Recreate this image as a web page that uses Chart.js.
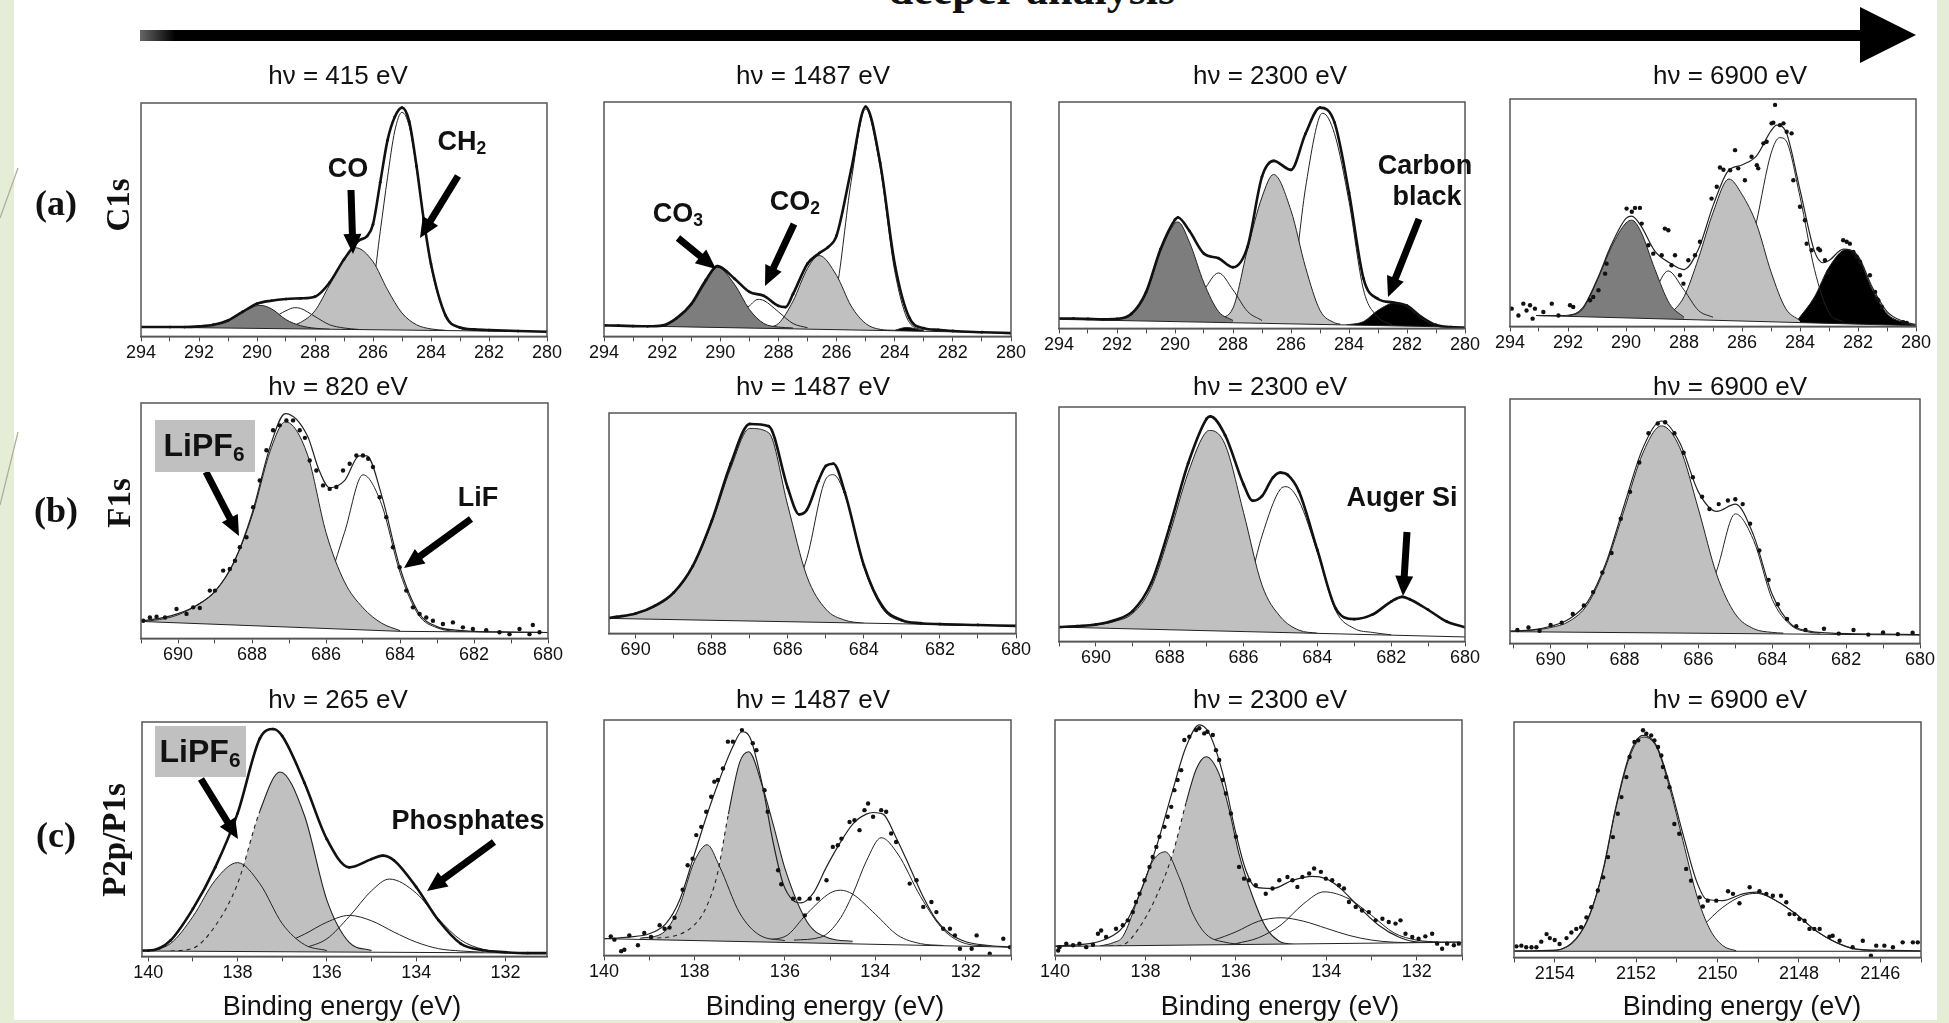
<!DOCTYPE html>
<html>
<head>
<meta charset="utf-8">
<script src="https://cdn.jsdelivr.net/npm/chart.js@4.4.1/dist/chart.umd.min.js"></script>
<style>
  body { margin: 0; width: 1949px; height: 1023px; background: #fff; position: relative; overflow: hidden;
         font-family: "Liberation Sans", Arial, sans-serif; color: #111; }
  .strip { position: absolute; background: #e6edd6; }
  canvas { position: absolute; }
  .t { position: absolute; transform: translate(-50%, -50%); white-space: nowrap; line-height: 1; }
  .title { font-size: 26px; }
  .xl { font-size: 27px; }
  .ann { font-size: 27px; font-weight: bold; }
  .ann sub { font-size: 65%; vertical-align: -0.25em; }
  .row { font-family: "Liberation Serif", "Times New Roman", serif; font-weight: bold; font-size: 36px; }
  .rot { font-family: "Liberation Serif", "Times New Roman", serif; font-weight: bold; font-size: 33px;
         transform: translate(-50%, -50%) rotate(-90deg); }
  .box { position: absolute; background: #c0c0c0; }
  svg { position: absolute; left: 0; top: 0; }
</style>
</head>
<body>
<div class="strip" style="left:0;top:0;width:14px;height:1023px"></div>
<div class="strip" style="left:1937px;top:0;width:12px;height:1023px"></div>
<div class="strip" style="left:0;top:1020px;width:1949px;height:3px"></div>

<div class="t" style="left:1032px;top:-10px;font-family:'Liberation Serif',serif;font-weight:bold;font-size:44px">deeper analysis</div>

<div id="charts"></div>
<svg id="over" width="1949" height="1023">
  <defs>
    <linearGradient id="fade" x1="140" y1="0" x2="175" y2="0" gradientUnits="userSpaceOnUse">
      <stop offset="0" stop-color="#666"/><stop offset="1" stop-color="#000"/>
    </linearGradient>
  </defs>
</svg>
<div id="labels"></div>

<script>
// ---------- values (y = % of the frame height) ----------
// (a) C1s, hv = 415 eV
const a1Bg  = [[294,4],[280,2]];
const a1Co3 = [[292.5,3.8],[292,4.1],[291.5,4.9],[291,6.7],[290.5,10.3],[289.9,13.3],[289.5,11.8],[289,7.2],[288.5,4.6],[288,3.5],[287.5,3.1]];
const a1Co2 = [[290.5,3.8],[290,4.8],[289.5,7.5],[289,11],[288.7,12.3],[288.5,12],[288,8.5],[287.5,5],[287,3.6],[286.5,3]];
const a1Co  = [[289.5,3.4],[289,4],[288.5,6],[288,11],[287.5,22],[287,33],[286.6,38],[286,32],[285.5,20],[285,10],[284.5,5],[284,3.2],[283.5,2.6]];
const a1Ch2 = [[287.5,3.1],[287,4],[286.5,7],[286,22],[285.75,45],[285.5,68],[285.25,88],[285,96],[284.75,90],[284.5,72],[284.25,50],[284,30],[283.5,9],[283,3.5],[282.5,2.5]];
const a1Env = [[294,4],[293,4],[292.5,4],[292,4.3],[291.5,5],[291,6.8],[290.5,10.5],[290,14],[289.5,15.3],[289,16],[288.5,16.3],[288,17],[287.5,23],[287,33],[286.5,41],[286.2,43],[286,48],[285.75,66],[285.5,84],[285.25,94],[285,98],[284.75,92],[284.5,73],[284.25,50],[284,31],[283.5,9],[283,3.8],[282.5,3],[282,2.7],[281,2.3],[280,2]];

// (a) C1s, hv = 1487 eV
const a2Bg  = [[294,4.7],[280,1.5]];
const a2Co3 = [[292.5,4.3],[292,4.6],[291.5,7.5],[291,13],[290.5,23],[290.1,29.5],[289.5,22],[289,11.5],[288.5,5.5],[288,4],[287.5,3.6]];
const a2Co2 = [[290.5,3.8],[290,4.5],[289.5,7.5],[289,13],[288.7,15.8],[288.5,15.3],[288,10.5],[287.5,5.5],[287,3.7]];
const a2Co  = [[288.5,3.6],[288,5.5],[287.5,15],[287,29],[286.6,34.5],[286,26],[285.5,13],[285,5.5],[284.5,3],[284,2.6]];
const a2Ch2 = [[286.5,5],[286,20],[285.5,66],[285,97],[284.5,72],[284,28],[283.5,6],[283,2.7]];
const a2Cb  = [[284,2.6],[283.6,3.8],[283,2.4]];
const a2Env = [[294,4.7],[293.5,4.6],[293,4.4],[292.5,4.3],[292,4.6],[291.5,7.8],[291,13.8],[290.5,24],[290.1,30],[289.5,24.5],[289,19],[288.5,17.3],[288,13],[287.75,12.5],[287.5,18],[287,31],[286.6,35.5],[286.3,38],[286,43],[285.5,71],[285,98],[284.5,74],[284,31],[283.5,8],[283,3.5],[282.5,2.8],[282,2.3],[281,1.8],[280,1.4]];

// (a) C1s, hv = 2300 eV
const a3Bg  = [[294,4],[280,0.5]];
const a3Co3 = [[292,4],[291.5,6],[291,15],[290.5,34],[290,46.5],[289.9,47],[289.5,38],[289,20],[288.5,7.5],[288,3.5]];
const a3Co2 = [[290,3.8],[289.5,8],[289,17],[288.5,24.5],[288,17],[287.5,7.5],[287,3.5]];
const a3Co  = [[288.5,4],[288,9],[287.5,35],[287,58],[286.6,68],[286,52],[285.5,27],[285,8],[284.5,2.5],[284.3,1.9]];
const a3Ch2 = [[286.5,4],[286,14],[285.5,62],[285,94],[284.9,95],[284.5,86],[284,56],[283.5,17],[283,5],[282.5,1.5]];
const a3Cb  = [[284.1,1.5],[283.5,3],[283,8],[282.4,11.3],[282,9.5],[281.5,4.4],[281,1.2],[280.7,0.8]];
const a3Env = [[294,4.4],[293.5,4.4],[293,4.2],[292.5,4],[292,4.2],[291.5,6.5],[291,16],[290.5,35],[290,48],[289.9,49],[289.5,43],[289,33],[288.5,31],[288,27],[287.5,36],[287,67],[286.6,74],[286,70],[285.5,86],[285,97.5],[284.5,91],[284,60],[283.5,22],[283,13],[282.5,11.5],[282,10],[281.5,5],[281,1.5],[280.5,0.6],[280,0.3]];

// (a) C1s, hv = 6900 eV
const a4Bg  = [[293.1,4.8],[280,0.3]];
const a4Co3 = [[292,4.5],[291.5,7.5],[291,20],[290.5,35],[290,45.5],[289.8,46.7],[289.5,42],[289,25],[288.5,10],[288,4]];
const a4Co2 = [[290,4.5],[289.5,7],[289,16],[288.55,24.4],[288,16],[287.5,7],[287,4]];
const a4Co  = [[288.5,5],[288,13],[287.5,30],[287,50],[286.45,64.8],[286,58],[285.5,45],[285,24],[284.5,8],[284,2.5]];
const a4Ch2 = [[286.5,5],[286,18],[285.5,46],[285,76],[284.7,83],[284.5,82],[284,57],[283.5,25],[283,6],[282.5,2]];
const a4Cb  = [[284.1,2.5],[283.5,13],[283,26],[282.4,33.8],[282,30.5],[281.5,16],[281,5.6],[280.5,2],[280,0.5]];
const a4Fit = [[293.1,4.8],[292.5,4.7],[292,4.9],[291.5,8],[291,20.5],[290.5,36],[290,47.5],[289.8,48.5],[289.5,44.5],[289,33],[288.5,28],[288,25],[287.5,34],[287,53],[286.5,68],[286,71],[285.5,75],[285,86],[284.8,88.5],[284.5,86],[284,60],[283.5,33],[283.2,28],[283,29],[282.5,34],[282,31],[281.5,17],[281,6.5],[280.5,2.5],[280,0.8]];
const a4Dots = [[293.94,7.8],[293.71,4.8],[293.54,10],[293.43,7],[293.31,9.3],[293.22,3.4],[293.14,7.8],[292.85,6.3],[292.56,10],[292.33,4.8],[291.93,9.3],[291.82,8.5],[291.24,11.5],[291.13,12.9],[290.95,15.9],[290.72,23.2],[290.67,27.6],[289.98,51.8],[289.8,50.4],[289.69,52.1],[289.52,52.1],[289.46,45.2],[289.23,35.7],[289.06,32],[288.77,31.3],[288.66,43],[288.54,42.3],[288.43,26.9],[288.31,31.3],[288.14,22.5],[288.02,18.8],[287.85,29.1],[287.62,31.3],[287.45,37.2],[287.05,56.2],[286.87,61.4],[286.76,69.9],[286.64,68.9],[286.41,68.7],[286.24,77.5],[286.13,69.5],[285.9,64.3],[285.67,74.6],[285.49,70.9],[285.44,69.5],[285.26,80.5],[285.15,81.2],[284.98,89.3],[284.92,89.6],[284.86,97.4],[284.69,88.5],[284.57,89.3],[284.46,85.6],[284.29,84.9],[284.23,64.3],[284,52.6],[283.83,46.7],[283.77,36.4],[283.6,33.5],[283.37,34.2],[283.31,33.5],[283.14,29.1],[283.02,23.9],[282.51,37.9],[282.39,37.2],[282.28,36.4],[282.16,32.7],[282.05,30.5],[281.93,28.3],[281.59,22.5],[281.41,15.1],[281.36,12.2],[281.3,11.5],[281.18,8.5],[280.44,1.9],[280.32,1.5]];

// (b) F1s, hv = 820 eV
const b1Bg  = [[691,7.2],[684,3],[680,2.5]];
const b1Lipf = [[691,7.2],[690.5,8],[690,10],[689.5,14],[689,20],[688.5,32],[688,52],[687.5,80],[687.1,92],[686.5,78],[686,45],[685.5,24],[685,13],[684.5,6.5],[684,3.3]];
const b1Lif = [[688,5.5],[687.5,6],[687,8.5],[686.5,12],[686,22],[685.5,45],[685,69.5],[684.5,57],[684,28],[683.5,10],[683,4.5],[682.5,3],[682,2.6]];
const b1Fit = [[691,7.5],[690.5,8.5],[690,10.5],[689.5,14],[689,20],[688.5,32],[688,53],[687.5,82],[687.1,95.5],[686.5,86],[686.2,72],[685.9,64],[685.5,67],[685.1,77.5],[684.9,77.5],[684.5,61],[684,30],[683.5,11],[683,5],[682.5,3.5],[682,3],[681,2.7],[680,2.5]];
const b1Dots = [[690.94,7.5],[690.76,8.9],[690.58,9.2],[690.35,8.9],[690.04,12.5],[689.77,10.4],[689.59,13.2],[689.41,12.9],[689.14,20.3],[689,20.3],[688.78,28.8],[688.6,29.5],[688.46,33],[688.33,38.7],[688.15,43],[687.97,55.7],[687.79,67.1],[687.61,79.9],[687.43,88.4],[687.25,90.5],[687.07,92.6],[686.89,92.6],[686.71,88.4],[686.57,85.2],[686.44,75.6],[686.26,71.3],[686.08,65],[685.9,63.5],[685.72,64.3],[685.54,71.3],[685.36,74.2],[685.18,77.7],[685,77.7],[684.86,76.3],[684.73,72.8],[684.55,60],[684.37,51.5],[684.19,38.7],[684.01,30.2],[683.83,20.3],[683.65,13.2],[683.47,10.4],[683.29,8.9],[683.11,7.5],[682.84,6.1],[682.57,6.8],[682.3,4.7],[682.03,4],[681.67,3.5],[681.31,2.6],[681.04,1.8],[680.77,4],[680.5,1.8],[680.41,5.7],[680.23,2.6]];

// (b) F1s, hv = 1487 eV
const b2Bg  = [[690.7,6.8],[680,3.4]];
const b2Lipf = [[690.7,7],[690.5,7.5],[690,9],[689.5,12],[689,18],[688.5,30],[688,50],[687.5,75],[687,93],[686.5,91],[686,58],[685.5,26],[685,11],[684.5,6],[684,4.6]];
const b2Lif = [[687,5.8],[686.5,7],[686,12],[685.5,34],[685,70],[684.8,72],[684.5,63],[684,30],[683.5,11],[683,5.5],[682.5,4.2]];
const b2Env = [[690.7,7],[690.5,7.5],[690,9],[689.5,12.5],[689,18.5],[688.5,30.5],[688,51],[687.5,77],[687,95],[686.5,94],[686,66],[685.7,54],[685.5,56],[685.2,69],[685,76],[684.8,77],[684.5,64],[684,31],[683.5,12],[683,6],[682.5,4.6],[682,4.2],[681,3.8],[680,3.4]];

// (b) F1s, hv = 2300 eV
const b3Bg  = [[691,6.1],[680,1.9]];
const b3Lipf = [[691,6.1],[690.5,6.5],[690,7],[689.5,8.5],[689,12],[688.5,23],[688,46],[687.5,72],[687,89.5],[686.9,90],[686.5,84],[686,55],[685.5,24],[685,10.5],[684.5,4.8],[684,3.5]];
const b3Lif = [[687.5,5.5],[687,6],[686.5,7.5],[686,16],[685.5,45],[685,65],[684.85,66],[684.5,60],[684,38],[683.5,13],[683,5.5],[682.5,3.8],[682,2.8]];
const b3Env = [[691,6.1],[690.5,6.5],[690,7.2],[689.5,9],[689,13],[688.5,25],[688,49],[687.5,76],[687,95],[686.9,96],[686.5,88],[686,67],[685.75,60],[685.5,62],[685.2,70],[685,72],[684.8,71],[684.5,64],[684,39],[683.5,14],[683,9.5],[682.5,11.5],[682,17],[681.7,19],[681.5,18],[681,13.5],[680.5,8.5],[680,6]];

// (b) F1s, hv = 6900 eV
const b4Bg  = [[691.1,4.8],[680,3.4]];
const b4Lipf = [[691.1,5],[690.5,5.4],[690,6.5],[689.5,9],[689,16],[688.5,32],[688,55],[687.5,78],[687,89],[686.5,80],[686,55],[685.5,28],[685,12],[684.5,6],[684,4.5],[683.7,4.2]];
const b4Lif = [[686.8,4.6],[686.5,5.5],[686,11],[685.5,30],[685,53],[684.5,42],[684,18],[683.5,7.5],[683,4.6],[682.7,4.2]];
const b4Fit = [[691.1,5],[690.5,5.5],[690,7],[689.5,10],[689,17],[688.5,33],[688,57],[687.5,80],[687,91],[686.5,82],[686,62],[685.5,54],[685,57],[684.5,44],[684,20],[683.5,8],[683,5],[682.5,4.3],[682,4],[681,3.8],[680,3.6]];
const b4Dots = [[690.9,5.5],[690.6,6.5],[690.3,5.2],[690,7.5],[689.7,8.5],[689.4,12],[689.1,15.5],[688.85,21],[688.6,29],[688.35,37],[688.1,51],[687.85,62],[687.6,74],[687.35,86],[687.1,90],[686.9,90.5],[686.65,86],[686.4,78],[686.15,68],[685.9,60],[685.7,55],[685.45,57],[685.2,58.5],[685,59],[684.8,57],[684.6,49],[684.35,38],[684.1,26],[683.85,16],[683.6,10],[683.35,7],[683.1,5.5],[682.6,6],[682.2,4],[681.8,5.5],[681.4,3.6],[681,4.5],[680.6,3.8],[680.2,4.4]];

// (c) P2p, hv = 265 eV
const c1Bg  = [[140.14,2.3],[131.07,1.4]];
const c1P1  = [[140,2.3],[139.5,5.5],[139,17],[138.5,32.5],[138,40],[137.5,31],[137,14],[136.5,5],[136,2.5]];
const c1P2  = [[139.5,2.3],[139,3.5],[138.5,13],[138,31],[137.5,62],[137.05,78.7],[136.5,60],[136,24],[135.5,6],[135,2.5]];
const c1Ph1 = [[137.5,3.3],[137,5.4],[136.5,9.5],[136,14.6],[135.5,17.5],[135,15.2],[134.5,10.4],[134,6.1],[133.5,3.3],[133,2.3],[132.5,1.8]];
const c1Ph2 = [[136.5,3.5],[136,7.5],[135.5,17],[135,28],[134.6,33],[134,27],[133.5,16],[133,7],[132.5,3],[132,1.8]];
const c1Env = [[140.14,2.5],[140,2.5],[139.75,3.5],[139.5,6.8],[139,20.3],[138.5,38],[138,61],[137.5,93],[137.2,97],[137,94],[136.5,74],[136,50],[135.5,38],[135,41.5],[134.75,43],[134.5,41],[134,29.6],[133.5,15.4],[133,5.4],[132.5,2.6],[132,1.8],[131.5,1.4],[131.07,1.4]];

// (c) P2p, hv = 1487 eV
const c2Bg  = [[140,7.1],[131,3.5]];
const c2P1  = [[139.2,7.3],[138.7,9.5],[138.35,20],[138,40],[137.72,47],[137.45,38],[137,18],[136.55,8.5],[136,6.3]];
const c2P2  = [[139,7.3],[138.5,8],[138,13],[137.75,20],[137.5,34],[137.25,60],[137,82],[136.8,86.5],[136.5,72],[136.25,55],[136,37],[135.5,14],[135,7.2],[134.5,6]];
const c2Ph1 = [[136.5,6.6],[136,8],[135.5,18],[135,26.5],[134.77,27.7],[134.5,26],[134,17.5],[133.5,8.5],[133,5],[132.5,4.2]];
const c2Ph2 = [[135.8,6.5],[135.2,7.8],[134.8,15],[134.5,26],[134.2,40],[133.87,50],[133.5,43],[133,25],[132.5,11],[132,5],[131.5,4]];
const c2Fit = [[140,7.1],[139.45,7.8],[139,9.2],[138.63,13.5],[138.33,23.4],[138,43],[137.74,58.7],[137.45,74.5],[137.15,88.7],[136.95,95],[136.78,92.9],[136.49,71.6],[136.27,49],[136.04,30.5],[135.82,23.4],[135.64,22.3],[135.38,26.2],[135.08,37.6],[134.79,47.5],[134.49,56],[134.2,60],[134.05,60.7],[133.83,60],[133.54,50],[133.24,37.6],[132.94,24.8],[132.65,15],[132.35,9.2],[131.98,5.7],[131.54,4.3],[131,3.5]];
const c2Dots = [[139.85,8.1],[139.77,6.7],[139.62,1.8],[139.55,2.4],[139.44,8.5],[139.25,4.3],[139.11,9.5],[138.96,7.8],[138.77,12.8],[138.66,11.3],[138.55,11.8],[138.44,16],[138.26,27.9],[138.15,38.3],[138.04,41.1],[137.96,51.1],[137.85,54.6],[137.74,61],[137.63,67.4],[137.56,73.8],[137.48,74.5],[137.37,79.4],[137.26,90.8],[137.15,90.8],[136.95,95.7],[136.71,90.1],[136.63,87.2],[136.45,70.2],[136.38,61],[136.15,36.2],[136.08,30.2],[135.82,24.1],[135.68,24.1],[135.56,17],[135.45,24.1],[135.27,24.1],[135.08,31.9],[134.94,46.1],[134.83,46.8],[134.75,49.6],[134.57,56.7],[134.46,57.4],[134.35,53.2],[134.24,61.7],[134.16,64.5],[134.05,58.9],[133.87,61.7],[133.76,61],[133.65,51.8],[133.54,48.2],[133.24,30.5],[133.09,31.9],[132.94,20.6],[132.76,22.7],[132.65,18.4],[132.5,11.3],[132.35,11.3],[132.24,8.5],[132.13,2.8],[131.87,2.8],[131.76,8.5],[131.47,0.7],[131.17,7.1],[131.02,3.5]];

// (c) P2p, hv = 2300 eV
const c3Bg  = [[140,3.8],[131,5.6]];
const c3P1  = [[139,4],[138.7,5.5],[138.5,8],[138.13,26],[137.84,40],[137.56,44],[137.25,33],[136.96,18],[136.66,9],[136.22,5.5],[135.9,4.8]];
const c3P2  = [[138.8,4],[138.5,4.5],[138.13,12],[137.76,25],[137.4,43],[137.1,65],[136.88,79],[136.66,84.4],[136.37,77],[136.15,62],[135.93,43],[135.63,25],[135.34,12],[135.04,6],[134.7,4.6]];
const c3Ph1 = [[137,4.5],[136.5,6.5],[136,10],[135.5,14.5],[135,16],[134.5,14.5],[134,11.5],[133.5,8.5],[133,6.5],[132.5,5.6],[132,5.4]];
const c3Ph2 = [[136,5],[135.5,7.5],[135,13],[134.5,22],[134.05,27],[133.5,24],[133,17],[132.5,9.5],[132,6.5],[131.5,5.6]];
const c3Fit = [[140,4],[139.24,5],[138.87,7],[138.5,12],[138.13,26],[137.76,46],[137.4,70],[137.1,88.7],[136.81,97.9],[136.59,94.3],[136.29,77.3],[136,51.8],[135.78,36.2],[135.56,29],[135.19,28.4],[134.75,31.9],[134.31,33.6],[134.01,32.6],[133.72,29],[133.28,20.6],[132.84,12.8],[132.4,7.8],[131.96,5.7],[131.04,5.7]];
const c3Dots = [[139.93,2.1],[139.9,3.5],[139.75,5],[139.6,4.3],[139.46,5],[139.31,3.5],[139.16,4.5],[139.05,9.2],[138.98,10.6],[138.87,7.8],[138.65,11.3],[138.5,12.8],[138.39,14.9],[138.28,18.4],[138.21,22.7],[138.13,26.2],[138.02,31.9],[137.91,37.6],[137.84,41.8],[137.76,46.1],[137.69,50.4],[137.58,54.6],[137.51,58.9],[137.43,63.1],[137.36,70.2],[137.29,74.5],[137.21,78.7],[137.14,91.5],[137.03,92.9],[136.88,95.7],[136.81,96.5],[136.7,94.3],[136.63,95],[136.51,93.6],[136.44,87.2],[136.37,83],[136.29,74.5],[136.22,68.8],[136.11,60.3],[136,50.4],[135.93,37.6],[135.82,32.6],[135.71,31.9],[135.56,29.8],[135.34,26.2],[135.19,28.4],[135.04,31.9],[134.86,33.3],[134.75,31.9],[134.64,29.1],[134.53,33.3],[134.38,34.8],[134.27,36.9],[134.12,35.5],[134.01,32.6],[133.87,31.9],[133.72,29.8],[133.61,28.4],[133.5,22.7],[133.35,20.6],[133.21,19.1],[133.06,18.4],[132.91,14.9],[132.76,15.6],[132.62,14.2],[132.47,13.5],[132.36,14.9],[132.25,9.2],[132.1,7.8],[131.96,7.1],[131.81,8.1],[131.66,9.2],[131.55,5],[131.44,2.8],[131.33,5],[131.18,4.3],[131.07,5]];

// (c) P1s, hv = 6900 eV
const c4Bg  = [[2155,2.6],[2145,2.6]];
const c4P   = [[2154.2,2.7],[2153.96,3],[2153.47,7.8],[2153.14,18.4],[2152.81,36.9],[2152.49,63.8],[2152.16,85.1],[2151.83,93.6],[2151.5,89.4],[2151.18,72.3],[2150.85,49.6],[2150.52,27],[2150.19,12],[2149.87,5],[2149.54,2.8]];
const c4Ph  = [[2151.6,3],[2151.18,4.3],[2150.69,8.5],[2150.36,13.5],[2149.87,21.3],[2149.38,26.2],[2149.05,27.2],[2148.56,24.1],[2148.07,18.4],[2147.58,11.3],[2147.09,6.4],[2146.59,3.5],[2146.1,2.8]];
const c4Fit = [[2155,2.8],[2153.96,3.1],[2153.47,8.1],[2153.14,18],[2152.81,37.4],[2152.49,64.5],[2152.16,86.2],[2151.83,94.3],[2151.5,90],[2151.18,73.8],[2150.85,52.5],[2150.52,32.6],[2150.28,24.8],[2149.87,24.1],[2149.38,27],[2149.05,27.7],[2148.56,24.1],[2148.07,18.4],[2147.58,11.3],[2147.09,6.4],[2146.59,3.5],[2146.1,3.1],[2145,2.8]];
const c4Dots = [[2154.94,4.7],[2154.82,5],[2154.7,4.3],[2154.57,4.3],[2154.45,4.3],[2154.33,6.7],[2154.2,9.9],[2154.12,8.2],[2154,7.4],[2153.88,5.7],[2153.71,8.2],[2153.59,10.6],[2153.47,12.1],[2153.35,12.8],[2153.22,17],[2153.1,21.3],[2152.94,28.4],[2152.81,34],[2152.69,42.6],[2152.57,51.1],[2152.45,61],[2152.36,68.1],[2152.24,76.6],[2152.16,85.1],[2152.04,91.5],[2151.95,92.2],[2151.83,96.5],[2151.75,95],[2151.63,94.3],[2151.55,92.2],[2151.46,89.4],[2151.38,85.8],[2151.34,80.9],[2151.26,76.6],[2151.18,72.3],[2151.06,56.7],[2150.94,52.5],[2150.77,37.6],[2150.65,32.6],[2150.44,25.5],[2150.36,21.6],[2150.24,24.1],[2150.03,24.1],[2149.74,28.1],[2149.62,27],[2149.46,23],[2149.21,29.8],[2148.97,28.1],[2148.8,27],[2148.64,26.2],[2148.44,26.2],[2148.31,23.4],[2148.23,18.4],[2148.11,18.4],[2147.99,16.3],[2147.86,15.6],[2147.74,12.1],[2147.62,12.1],[2147.49,12.1],[2147.25,8.8],[2147.17,9.2],[2147,7.1],[2146.68,4.3],[2146.43,7.1],[2146.23,0.7],[2146.1,5],[2145.9,5],[2145.69,4.3],[2145.45,6.4],[2145.2,6.4],[2145.08,6.4]];

const titles = ['hν = 415 eV','hν = 1487 eV','hν = 2300 eV','hν = 6900 eV',
                'hν = 820 eV','hν = 1487 eV','hν = 2300 eV','hν = 6900 eV',
                'hν = 265 eV','hν = 1487 eV','hν = 2300 eV','hν = 6900 eV'];

// ---------- drawing ----------
const DARK = '#7d7d7d', LIGHT = '#c0c0c0', BLACK = '#000';

const panels = [
  {box:[141,103,547,336], x:[280,294], bg:a1Bg, comps:[[a1Co3,DARK],[a1Co2,null],[a1Co,LIGHT],[a1Ch2,null]], env:a1Env},
  {box:[604,102,1011,336], x:[280,294], bg:a2Bg, comps:[[a2Co3,DARK],[a2Co2,null],[a2Co,LIGHT],[a2Ch2,null],[a2Cb,BLACK]], env:a2Env},
  {box:[1059,102,1465,328], x:[280,294], bg:a3Bg, comps:[[a3Co3,DARK],[a3Co2,null],[a3Co,LIGHT],[a3Ch2,null],[a3Cb,BLACK]], env:a3Env},
  {box:[1510,99,1916,326], x:[280,294], bg:a4Bg, comps:[[a4Co3,DARK],[a4Co2,null],[a4Co,LIGHT],[a4Ch2,null],[a4Cb,BLACK]], fit:a4Fit, dots:a4Dots},
  {box:[141,403,548,638], x:[680,691], bg:b1Bg, comps:[[b1Lipf,LIGHT],[b1Lif,null]], fit:b1Fit, dots:b1Dots},
  {box:[609,413,1016,633], x:[680,690.7], bg:b2Bg, comps:[[b2Lipf,LIGHT],[b2Lif,null]], env:b2Env},
  {box:[1059,407,1465,641], x:[680,691], bg:b3Bg, comps:[[b3Lipf,LIGHT],[b3Lif,null]], env:b3Env},
  {box:[1510,399,1920,643], x:[680,691.1], bg:b4Bg, comps:[[b4Lipf,LIGHT],[b4Lif,null]], fit:b4Fit, dots:b4Dots},
  {box:[142,722,547,956], x:[131.07,140.14], bg:c1Bg, comps:[[c1P1,LIGHT],[c1P2,LIGHT,137.8],[c1Ph1,null],[c1Ph2,null]], env:c1Env},
  {box:[604,720,1011,955], x:[131,140], bg:c2Bg, comps:[[c2P1,LIGHT],[c2P2,LIGHT,137.35],[c2Ph1,null],[c2Ph2,null]], fit:c2Fit, dots:c2Dots},
  {box:[1055,720,1462,955], x:[131,140], bg:c3Bg, comps:[[c3P1,LIGHT],[c3P2,LIGHT,137.35],[c3Ph1,null],[c3Ph2,null]], fit:c3Fit, dots:c3Dots},
  {box:[1514,722,1921,957], x:[2145,2155], bg:c4Bg, comps:[[c4P,LIGHT],[c4Ph,null]], fit:c4Fit, dots:c4Dots}
];

const frame = {
  id: 'frame',
  afterDraw(chart) {
    const {ctx, chartArea: a} = chart;
    ctx.save();
    ctx.strokeStyle = '#555';
    ctx.lineWidth = 1.5;
    ctx.strokeRect(a.left, a.top, a.right - a.left, a.bottom - a.top);
    ctx.restore();
  }
};

const pts = arr => arr.map(([x, y]) => ({x, y}));

const PAD_L = 30, PAD_R = 30, PAD_T = 4;
const TICK_LEN = 5, TICK_PAD = 1, TICK_SIZE = 18;
const AXIS_H = TICK_LEN + 2 * TICK_PAD + TICK_SIZE * 1.2;

panels.forEach(p => {
  const [L, T, R, B] = p.box;
  const cv = document.createElement('canvas');
  const w = R - L + PAD_L + PAD_R;
  const h = Math.round(PAD_T + (B - T) + AXIS_H);
  cv.width = w; cv.height = h;
  cv.style.left = (L - PAD_L) + 'px';
  cv.style.top = (T - PAD_T) + 'px';
  cv.style.width = w + 'px'; cv.style.height = h + 'px';
  document.getElementById('charts').appendChild(cv);

  const ds = [];
  p.comps.forEach(([arr, color, dashFrom]) => {
    if (dashFrom) {
      // fill alone, then the outline with its hidden (dashed) part
      ds.push({data: pts(arr), borderWidth: 0, borderColor: 'transparent', pointRadius: 0,
               cubicInterpolationMode: 'monotone', order: 11, fill: 'origin', backgroundColor: color});
      ds.push({data: pts(arr), borderColor: '#222', borderWidth: 1.1, pointRadius: 0,
               cubicInterpolationMode: 'monotone', order: 9, fill: false,
               segment: {borderDash: c => arr[c.p0DataIndex][0] > dashFrom ? [4, 4] : undefined}});
    } else {
      ds.push({data: pts(arr), borderColor: '#222', borderWidth: 1, pointRadius: 0,
               cubicInterpolationMode: 'monotone', order: 10,
               fill: color ? 'origin' : false, backgroundColor: color || 'transparent'});
    }
  });
  // background line; white below it
  ds.push({data: pts(p.bg), borderColor: '#222', borderWidth: 1, pointRadius: 0,
           fill: 'origin', backgroundColor: '#fff', order: 5});
  if (p.env) {
    ds.push({data: pts(p.env), borderColor: '#111', borderWidth: 2.6, pointRadius: 1.4,
             pointBackgroundColor: '#111', pointBorderWidth: 0, cubicInterpolationMode: 'monotone', order: 2});
  }
  if (p.fit) {
    ds.push({data: pts(p.fit), borderColor: '#222', borderWidth: 1.2, pointRadius: 0,
             cubicInterpolationMode: 'monotone', order: 3});
  }
  if (p.dots) {
    ds.push({data: pts(p.dots), showLine: false, pointRadius: 2.2, pointBackgroundColor: '#111',
             pointBorderWidth: 0, order: 1});
  }

  new Chart(cv, {
    type: 'line',
    data: {datasets: ds},
    options: {
      responsive: false, animation: false, events: [],
      layout: {padding: {left: PAD_L, right: PAD_R, top: PAD_T, bottom: 0}},
      plugins: {legend: {display: false}, tooltip: {enabled: false}},
      scales: {
        x: {
          type: 'linear', min: p.x[0], max: p.x[1], reverse: true,
          border: {display: true, color: '#444', width: 1.5},
          grid: {display: true, drawOnChartArea: false, drawTicks: true, tickLength: TICK_LEN, color: '#444'},
          ticks: {
            stepSize: 1, autoSkip: false, maxRotation: 0, minRotation: 0, padding: TICK_PAD,
            includeBounds: false, color: '#111',
            font: {family: '"Liberation Sans", Arial, sans-serif', size: TICK_SIZE},
            callback: v => (Math.abs(v % 2) < 1e-6 ? String(v) : '')
          }
        },
        y: {type: 'linear', min: 0, max: 100, display: false}
      }
    },
    plugins: [frame]
  });
});

// ---------- text ----------
const lab = document.getElementById('labels');
function txt(cls, x, y, html, extra) {
  const d = document.createElement('div');
  d.className = 't ' + cls;
  d.style.left = x + 'px'; d.style.top = y + 'px';
  if (extra) d.style.cssText += extra;
  d.innerHTML = html;
  lab.appendChild(d);
}
const titleX = [338, 813, 1270, 1730];
const titleY = [75, 386, 699];
titles.forEach((t, i) => txt('title', titleX[i % 4], titleY[Math.floor(i / 4)], t));
[342, 825, 1280, 1742].forEach(x => txt('xl', x, 1006, 'Binding energy (eV)'));

txt('row', 56, 203, '(a)');
txt('row', 56, 510, '(b)');
txt('row', 56, 835, '(c)');
txt('rot', 118, 205, 'C1s');
txt('rot', 119, 503, 'F1s');
txt('rot', 114, 840, 'P2p/P1s');

// label boxes
[[155,420,100,52],[155,726,91,51]].forEach(([x, y, w, h]) => {
  const d = document.createElement('div');
  d.className = 'box';
  d.style.cssText += `left:${x}px;top:${y}px;width:${w}px;height:${h}px`;
  lab.appendChild(d);
});
txt('ann', 204, 447, 'LiPF<sub>6</sub>', 'font-size:32px');
txt('ann', 200, 753, 'LiPF<sub>6</sub>', 'font-size:32px');
txt('ann', 348, 168, 'CO');
txt('ann', 462, 143, 'CH<sub>2</sub>');
txt('ann', 678, 215, 'CO<sub>3</sub>');
txt('ann', 795, 203, 'CO<sub>2</sub>');
txt('ann', 1425, 165, 'Carbon');
txt('ann', 1427, 196, 'black');
txt('ann', 478, 497, 'LiF');
txt('ann', 1402, 497, 'Auger Si');
txt('ann', 468, 820, 'Phosphates');

// ---------- arrows ----------
const svg = document.getElementById('over');
function poly(points, fill) {
  const el = document.createElementNS('http://www.w3.org/2000/svg', 'polygon');
  el.setAttribute('points', points.map(p => p.join(',')).join(' '));
  el.setAttribute('fill', fill || '#000');
  svg.appendChild(el);
}
function arrow(x1, y1, x2, y2, w = 7, hw = 18, hl = 20) {
  const dx = x2 - x1, dy = y2 - y1, len = Math.hypot(dx, dy);
  const ux = dx / len, uy = dy / len, nx = -uy, ny = ux;
  const bx = x2 - ux * hl, by = y2 - uy * hl;
  poly([[x1 + nx * w / 2, y1 + ny * w / 2], [bx + nx * w / 2, by + ny * w / 2], [bx + nx * hw / 2, by + ny * hw / 2],
        [x2, y2], [bx - nx * hw / 2, by - ny * hw / 2], [bx - nx * w / 2, by - ny * w / 2], [x1 - nx * w / 2, y1 - ny * w / 2]]);
}
arrow(351, 190, 353, 254);
arrow(458, 176, 420, 238);
arrow(678, 238, 716, 269);
arrow(794, 224, 765, 286);
arrow(1419, 219, 1388, 297);
arrow(206, 472, 239, 536);
arrow(471, 519, 404, 568);
arrow(1407, 532, 1403, 596);
arrow(201, 779, 238, 839);
arrow(494, 842, 427, 891);

// big arrow on top
poly([[140, 30], [1862, 30], [1862, 41], [140, 41]], 'url(#fade)');
poly([[1860, 7], [1916, 35], [1860, 63]], '#000');

// faint diagonal decorations on the left margin
['M0 218 L18 168', 'M0 505 L18 432'].forEach(dp => {
  const el = document.createElementNS('http://www.w3.org/2000/svg', 'path');
  el.setAttribute('d', dp);
  el.setAttribute('stroke', '#a9ad95');
  el.setAttribute('stroke-width', '1.2');
  svg.appendChild(el);
});
</script>
</body>
</html>
